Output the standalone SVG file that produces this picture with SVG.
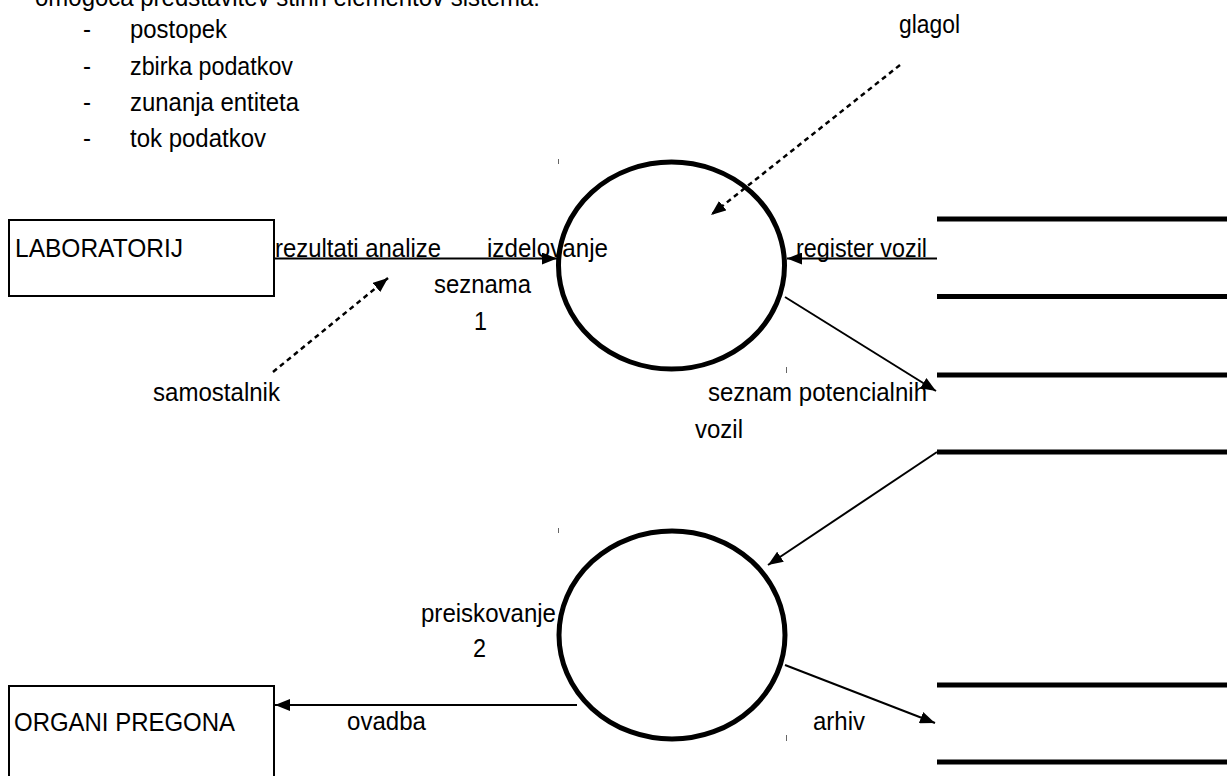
<svg xmlns="http://www.w3.org/2000/svg" width="1227" height="776" viewBox="0 0 1227 776">
  <style>
    text { font-family: "Liberation Sans", Arial, sans-serif; font-size: 26px; fill: #000; }
    .box { fill: #fff; stroke: #000; stroke-width: 2; }
    .proc { fill: none; stroke: #000; stroke-width: 5; }
    .store { stroke: #000; stroke-width: 5; }
    .flow { fill: none; stroke: #000; stroke-width: 2; marker-end: url(#arrow); }
    .dotted { fill: none; stroke: #000; stroke-width: 2.5; stroke-dasharray: 5 4; marker-end: url(#arrow); }
    .tick { stroke: #666; stroke-width: 1; }
  </style>
  <defs>
    <marker id="arrow" markerUnits="userSpaceOnUse" markerWidth="16" markerHeight="12" refX="15" refY="6" orient="auto">
      <path d="M0,0 L15,6 L0,12 z" fill="#000"/>
    </marker>
  </defs>
  <rect width="1227" height="776" fill="#fff"/>

  <g id="intro">
    <text x="35" y="6" textLength="505" lengthAdjust="spacingAndGlyphs">omogoča predstavitev štirih elementov sistema:</text>
    <text x="83" y="38" textLength="8" lengthAdjust="spacingAndGlyphs">-</text><text x="130" y="38" textLength="97" lengthAdjust="spacingAndGlyphs">postopek</text>
    <text x="83" y="75" textLength="8" lengthAdjust="spacingAndGlyphs">-</text><text x="130" y="75" textLength="163" lengthAdjust="spacingAndGlyphs">zbirka podatkov</text>
    <text x="83" y="111" textLength="8" lengthAdjust="spacingAndGlyphs">-</text><text x="130" y="111" textLength="169" lengthAdjust="spacingAndGlyphs">zunanja entiteta</text>
    <text x="83" y="147" textLength="8" lengthAdjust="spacingAndGlyphs">-</text><text x="130" y="147" textLength="136" lengthAdjust="spacingAndGlyphs">tok podatkov</text>
  </g>

  <g id="laboratorij">
    <rect class="box" x="9" y="220" width="265" height="76"/>
    <text x="15" y="257" textLength="168" lengthAdjust="spacingAndGlyphs">LABORATORIJ</text>
  </g>

  <g id="organi-pregona">
    <rect class="box" x="9" y="686" width="265" height="100"/>
    <text x="14" y="730.5" textLength="221" lengthAdjust="spacingAndGlyphs">ORGANI PREGONA</text>
  </g>

  <g id="proces-1">
    <ellipse class="proc" cx="671.5" cy="265.5" rx="113" ry="103.5"/>
    <line class="tick" x1="558.5" y1="159" x2="558.5" y2="164"/>
    <line class="tick" x1="786.5" y1="367" x2="786.5" y2="373"/>
    <text x="487" y="256.5" textLength="121" lengthAdjust="spacingAndGlyphs">izdelovanje</text>
    <text x="434" y="293" textLength="97" lengthAdjust="spacingAndGlyphs">seznama</text>
    <text x="474" y="330" textLength="13" lengthAdjust="spacingAndGlyphs">1</text>
  </g>

  <g id="proces-2">
    <ellipse class="proc" cx="672" cy="635" rx="113" ry="104"/>
    <line class="tick" x1="558.5" y1="528" x2="558.5" y2="533"/>
    <line class="tick" x1="786.5" y1="735" x2="786.5" y2="741"/>
    <text x="421" y="622" textLength="135" lengthAdjust="spacingAndGlyphs">preiskovanje</text>
    <text x="473" y="657" textLength="13" lengthAdjust="spacingAndGlyphs">2</text>
  </g>

  <g id="store-1">
    <line class="store" x1="937" y1="219" x2="1227" y2="219"/>
    <line class="store" x1="937" y1="296.5" x2="1227" y2="296.5"/>
  </g>
  <g id="store-2">
    <line class="store" x1="937" y1="375" x2="1227" y2="375"/>
    <line class="store" x1="937" y1="452" x2="1227" y2="452"/>
  </g>
  <g id="store-3">
    <line class="store" x1="937" y1="685" x2="1227" y2="685"/>
    <line class="store" x1="937" y1="762" x2="1227" y2="762"/>
  </g>

  <g id="connectors">
    <line class="flow" x1="274" y1="258.5" x2="557" y2="258.5"/>
    <line class="flow" x1="937" y1="258.5" x2="787" y2="258.5"/>
    <line class="flow" x1="785" y1="297" x2="936" y2="391"/>
    <line class="flow" x1="937" y1="452" x2="768" y2="565"/>
    <line class="flow" x1="577" y1="705" x2="275" y2="705"/>
    <line class="flow" x1="785" y1="665" x2="935" y2="723"/>
    <line class="dotted" x1="273" y1="372" x2="388" y2="278"/>
    <line class="dotted" x1="900" y1="65" x2="711" y2="215"/>
  </g>

  <g id="labels">
    <text x="275" y="256.5" textLength="166" lengthAdjust="spacingAndGlyphs">rezultati analize</text>
    <text x="796" y="256.5" textLength="131" lengthAdjust="spacingAndGlyphs">register vozil</text>
    <text x="708" y="401" textLength="219" lengthAdjust="spacingAndGlyphs">seznam potencialnih</text>
    <text x="695" y="438" textLength="48" lengthAdjust="spacingAndGlyphs">vozil</text>
    <text x="347" y="730" textLength="79" lengthAdjust="spacingAndGlyphs">ovadba</text>
    <text x="813" y="730" textLength="52" lengthAdjust="spacingAndGlyphs">arhiv</text>
    <text x="153" y="401" textLength="127" lengthAdjust="spacingAndGlyphs">samostalnik</text>
    <text x="899" y="33" textLength="61" lengthAdjust="spacingAndGlyphs">glagol</text>
  </g>
</svg>
